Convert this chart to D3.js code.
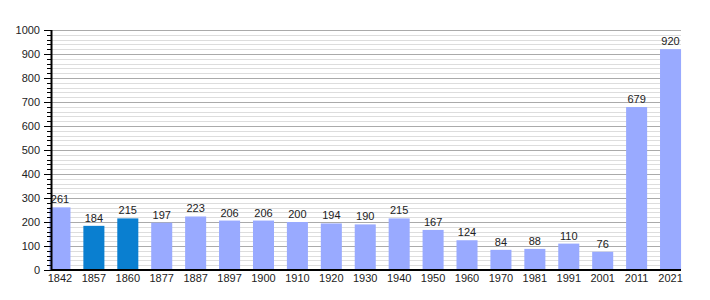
<!DOCTYPE html>
<html>
<head>
<meta charset="utf-8">
<script src="https://cdn.jsdelivr.net/npm/d3@7"></script>
<style>
  body { margin: 0; background: #fff; }
  text { font-family: "Liberation Sans", Arial, sans-serif; }
</style>
</head>
<body>
<div id="chart"></div>
<script>
// census years and population
var years = ["1842", "1857", "1860", "1877", "1887", "1897", "1900", "1910", "1920", "1930",
  "1940", "1950", "1960", "1970", "1981", "1991", "2001", "2011", "2021"];
var population = [261, 184, 215, 197, 223, 206, 206, 200, 194, 190,
  215, 167, 124, 84, 88, 110, 76, 679, 920];
// years drawn in the darker colour
var highlighted = ["1857", "1860"];
var yTicks = [0, 100, 200, 300, 400, 500, 600, 700, 800, 900, 1000];

var svgWidth = 710;
var svgHeight = 300;

var svg = d3.select("#chart")
  .append("svg")
  .attr("width", svgWidth)
  .attr("height", svgHeight);

var axisX = 51;
var plotRight = 681;

var x = d3.scaleBand()
  .domain(years)
  .range([43, 687.5])
  .paddingInner(0.38)
  .paddingOuter(0.19);

var y = d3.scaleLinear()
  .domain([0, 1000])
  .range([270, 30]);

// minor grid lines every 20
var minor = d3.range(0, 1001, 20).filter(d => d % 100 !== 0);
svg.append("g")
  .selectAll("line")
  .data(minor)
  .enter()
  .append("line")
  .attr("x1", axisX)
  .attr("x2", plotRight)
  .attr("y1", d => Math.round(y(d)) + 0.5)
  .attr("y2", d => Math.round(y(d)) + 0.5)
  .attr("stroke", "#dddddd");

// major grid lines
svg.append("g")
  .selectAll("line")
  .data(yTicks.filter(d => d > 0))
  .enter()
  .append("line")
  .attr("x1", axisX)
  .attr("x2", plotRight)
  .attr("y1", d => Math.round(y(d)) + 0.5)
  .attr("y2", d => Math.round(y(d)) + 0.5)
  .attr("stroke", "#aaaaaa");

// bars
svg.append("g")
  .selectAll("rect")
  .data(years)
  .enter()
  .append("rect")
  .attr("x", d => x(d))
  .attr("width", x.bandwidth())
  .attr("y", (d, i) => y(population[i]))
  .attr("height", (d, i) => y(0) - y(population[i]))
  .attr("fill", d => highlighted.includes(d) ? "#0a7fd0" : "#99aaff");

// value labels
svg.append("g")
  .selectAll("text")
  .data(years)
  .enter()
  .append("text")
  .attr("x", d => x(d) + x.bandwidth() / 2)
  .attr("y", (d, i) => y(population[i]) - 4)
  .attr("text-anchor", "middle")
  .attr("font-size", "11px")
  .attr("fill", "#222")
  .text((d, i) => population[i]);

// y axis with minor ticks
var leftAxis = d3.axisLeft(y)
  .tickValues(yTicks)
  .tickFormat(d3.format("d"))
  .tickSize(7)
  .tickPadding(4);

var yAxis = svg.append("g")
  .attr("transform", `translate(${axisX}, 0)`)
  .call(leftAxis);
yAxis.select(".domain").remove();
yAxis.selectAll("text").attr("font-size", "11px").attr("fill", "#222");
yAxis.selectAll("line").attr("stroke", "#000");

svg.append("g")
  .selectAll("line")
  .data(minor)
  .enter()
  .append("line")
  .attr("x1", axisX - 4)
  .attr("x2", axisX)
  .attr("y1", d => Math.round(y(d)) + 0.5)
  .attr("y2", d => Math.round(y(d)) + 0.5)
  .attr("stroke", "#000");

svg.append("line")
  .attr("x1", axisX + 0.5)
  .attr("x2", axisX + 0.5)
  .attr("y1", y(1000))
  .attr("y2", y(0))
  .attr("stroke", "#000")
  .attr("stroke-width", 2);

svg.append("line")
  .attr("x1", axisX)
  .attr("x2", plotRight)
  .attr("y1", y(0))
  .attr("y2", y(0))
  .attr("stroke", "#000")
  .attr("stroke-width", 2);

// x labels
svg.append("g")
  .selectAll("text")
  .data(years)
  .enter()
  .append("text")
  .attr("x", d => x(d) + x.bandwidth() / 2)
  .attr("y", 282)
  .attr("text-anchor", "middle")
  .attr("font-size", "11px")
  .attr("fill", "#222")
  .text(d => d);
</script>
</body>
</html>
